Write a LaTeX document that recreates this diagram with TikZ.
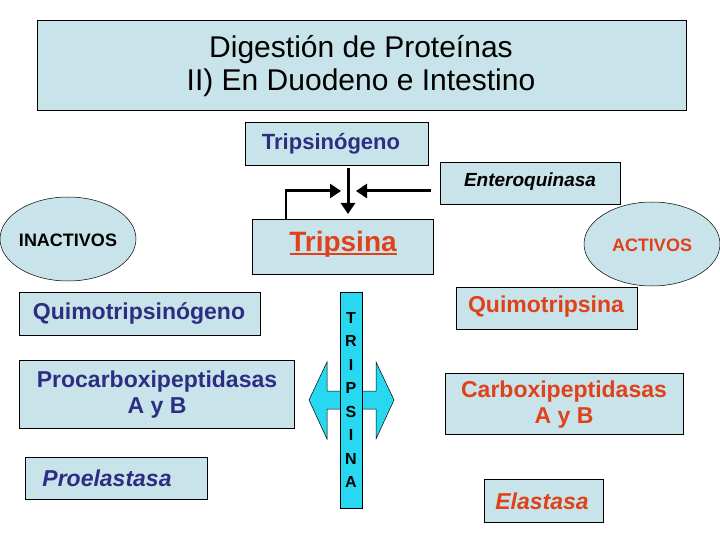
\documentclass[tikz,border=0pt]{standalone}
\usepackage{fontspec}
\setmainfont{Liberation Sans}
\usetikzlibrary{arrows.meta}
\definecolor{fillb}{RGB}{200,228,234}
\definecolor{cyanb}{RGB}{40,215,240}
\definecolor{dblue}{RGB}{45,45,130}
\definecolor{dred}{RGB}{225,65,25}
\begin{document}
\begin{tikzpicture}[x=1pt,y=-1pt,
  bx/.style={draw=black,fill=fillb,line width=0.6pt},
  lbl/.style={font=\bfseries\fontsize{23}{26}\selectfont,align=center},
  arr/.style={line width=3pt,-{Triangle[length=11pt,width=14pt]}}]
\useasboundingbox (0,0) rectangle (720,540);
\fill[white] (0,0) rectangle (720,540);
% title
\draw[bx] (37,20) rectangle (686,110);
\node[font=\fontsize{30}{33}\selectfont,align=center] (title) at (361,66) {Digestión de Proteínas\\II) En Duodeno e Intestino};
% top boxes
\draw[bx] (245,122) rectangle (428,165);
\node[font=\bfseries\fontsize{22}{26}\selectfont,text=dblue] (tgeno) at (331,144) {Tripsinógeno};
\draw[bx] (440,162) rectangle (620,204);
\node[font=\bfseries\itshape\fontsize{19}{22}\selectfont] (entero) at (530,182) {Enteroquinasa};
\draw[bx] (252,219) rectangle (433,274);
\node[font=\bfseries\fontsize{28}{32}\selectfont,text=dred] (trip) at (343,244) {Tripsina};
\draw[dred,line width=1.6pt] (290,254) -- (397,254);
% arrows
\coordinate (a1) at (348,168); \coordinate (a2) at (348,214);
\draw[arr] (a1) -- (a2);
\coordinate (b0) at (286,219); \coordinate (b1) at (286,191); \coordinate (b2) at (341,191);
\draw[line width=2.5pt] (b0) -- (b1);
\draw[arr] (285,191) -- (b2);
\coordinate (c1) at (431,191); \coordinate (c2) at (356,191);
\draw[arr] (c1) -- (c2);
% ellipses
\draw[fill=fillb,line width=0.5pt] (68,239) ellipse (68 and 42);
\node[font=\bfseries\fontsize{18}{20}\selectfont] (inact) at (68,240) {INACTIVOS};
\draw[fill=fillb,line width=0.5pt] (652,244) ellipse (68 and 42);
\node[font=\bfseries\fontsize{18}{20}\selectfont,text=dred] (act) at (652,245) {ACTIVOS};
% left boxes
\draw[bx] (19,292) rectangle (260,335);
\node[lbl,text=dblue] (q1) at (139,314) {Quimotripsinógeno};
\draw[bx] (19,360) rectangle (294,428);
\node[lbl,text=dblue] (p1) at (157,395) {Procarboxipeptidasas\\A y B};
\draw[bx] (25,457) rectangle (207,499);
\node[font=\bfseries\itshape\fontsize{23}{26}\selectfont,text=dblue] (pe) at (107,478) {Proelastasa};
% central arrow
\draw[fill=cyanb,line width=0.5pt] (309,400) -- (327,362) -- (327,391) -- (376,391) -- (376,362) -- (394,400) -- (376,439) -- (376,409) -- (327,409) -- (327,439) -- cycle;
\draw[fill=cyanb,line width=0.6pt] (340,292) rectangle (362,508);
\node[font=\bfseries\fontsize{16}{23.5}\selectfont,align=center] (tv) at (351,400) {T\\R\\I\\P\\S\\I\\N\\A};
% right boxes
\draw[bx] (456,287) rectangle (637,329);
\node[lbl,text=dred] (q2) at (546,307) {Quimotripsina};
\draw[bx] (445,373) rectangle (683,434);
\node[lbl,text=dred] (c2n) at (564,405) {Carboxipeptidasas\\A y B};
\draw[bx] (484,479) rectangle (603,522);
\node[font=\bfseries\itshape\fontsize{23}{26}\selectfont,text=dred] (el) at (542,501) {Elastasa};
\end{tikzpicture}
\end{document}
